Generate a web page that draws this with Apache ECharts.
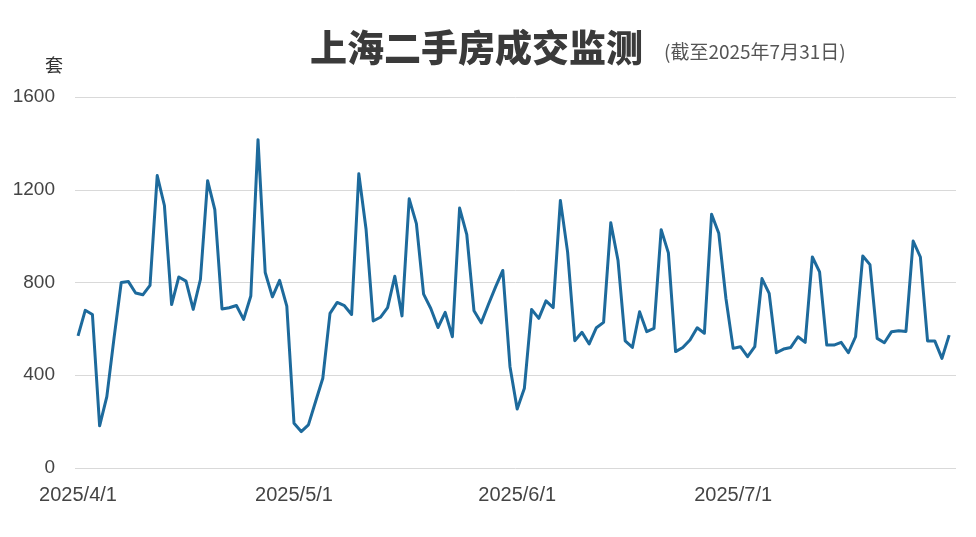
<!DOCTYPE html>
<html><head><meta charset="utf-8">
<script src="https://cdn.jsdelivr.net/npm/echarts@6/dist/echarts.min.js"></script>
<style>html,body{margin:0;padding:0;background:#fff}#c{width:976px;height:537px}</style>
</head><body><div id="c"></div>
<script>
// Daily dates 2025/4/1 .. 2025/7/31 (index 0..121)
var tickIndices = [0, 30, 61, 91];
var tickLabels = ['2025/4/1', '2025/5/1', '2025/6/1', '2025/7/1'];

var aprilValues = [570, 680, 662, 182, 308, 560, 800, 804, 755, 747,
                   788, 1261, 1132, 705, 824, 806, 684, 813, 1239, 1114,
                   686, 691, 701, 641, 742, 1416, 843, 738, 809, 698];
var mayValues = [193, 157, 186, 287, 387, 667, 714, 700, 662, 1269,
                 1032, 634, 650, 692, 827, 656, 1161, 1054, 750, 688,
                 606, 671, 566, 1121, 1006, 678, 626, 705, 781, 852, 437];
var juneValues = [254, 344, 684, 645, 721, 692, 1154, 932, 549, 585,
                  535, 605, 628, 1058, 896, 548, 520, 674, 588, 602,
                  1028, 928, 502, 520, 552, 605, 581, 1094, 1012, 730];
var julyValues = [516, 523, 480, 523, 817, 753, 497, 513, 520, 566,
                  542, 910, 846, 530, 530, 542, 497, 566, 914, 877,
                  559, 540, 588, 592, 589, 979, 910, 548, 548, 473, 573];

var values = aprilValues.concat(mayValues, juneValues, julyValues);
var seriesData = values.map(function (v, i) { return [i, v]; });
var labelMap = {};
tickIndices.forEach(function (t, k) { labelMap[t] = tickLabels[k]; });

var chart = echarts.init(document.getElementById('c'), null, {renderer: 'canvas'});
chart.setOption({
  backgroundColor: '#fff',
  animation: false,
  title: [
    {text: '上海二手房成交监测', left: 305, top: 24,
     textStyle: {fontFamily: 'Noto Sans CJK SC', fontSize: 37, fontWeight: 900, color: '#3a3a3a'}},
    {text: '(截至2025年7月31日)', left: 659, top: 37,
     textStyle: {fontFamily: 'Noto Sans CJK SC', fontSize: 19, fontWeight: 'normal', color: '#555'}},
    {text: '套', left: 40, top: 51,
     textStyle: {fontFamily: 'Noto Sans CJK SC', fontSize: 18, fontWeight: 'normal', color: '#333'}}
  ],
  grid: {left: 75, right: 20, top: 97, bottom: 69, containLabel: false},
  xAxis: {
    type: 'value', min: -0.42, max: 121.95,
    axisLine: {show: false}, axisTick: {show: false}, splitLine: {show: false},
    axisLabel: {
      customValues: tickIndices,
      formatter: function (v) { return labelMap[v] || ''; },
      fontFamily: 'Liberation Sans', fontSize: 20, color: '#444', margin: 17
    }
  },
  yAxis: {
    type: 'value', min: 0, max: 1600, interval: 400,
    axisLine: {show: false}, axisTick: {show: false},
    splitLine: {lineStyle: {color: '#d9d9d9', width: 1}},
    axisLabel: {fontFamily: 'Liberation Sans', fontSize: 19, color: '#444', margin: 20,
                formatter: function (v) { return String(v); }}
  },
  series: [{
    type: 'line', data: seriesData, showSymbol: false, symbol: 'none',
    lineStyle: {color: '#1d6a9c', width: 3, join: 'round'},
    z: 3
  }]
});
</script></body></html>
